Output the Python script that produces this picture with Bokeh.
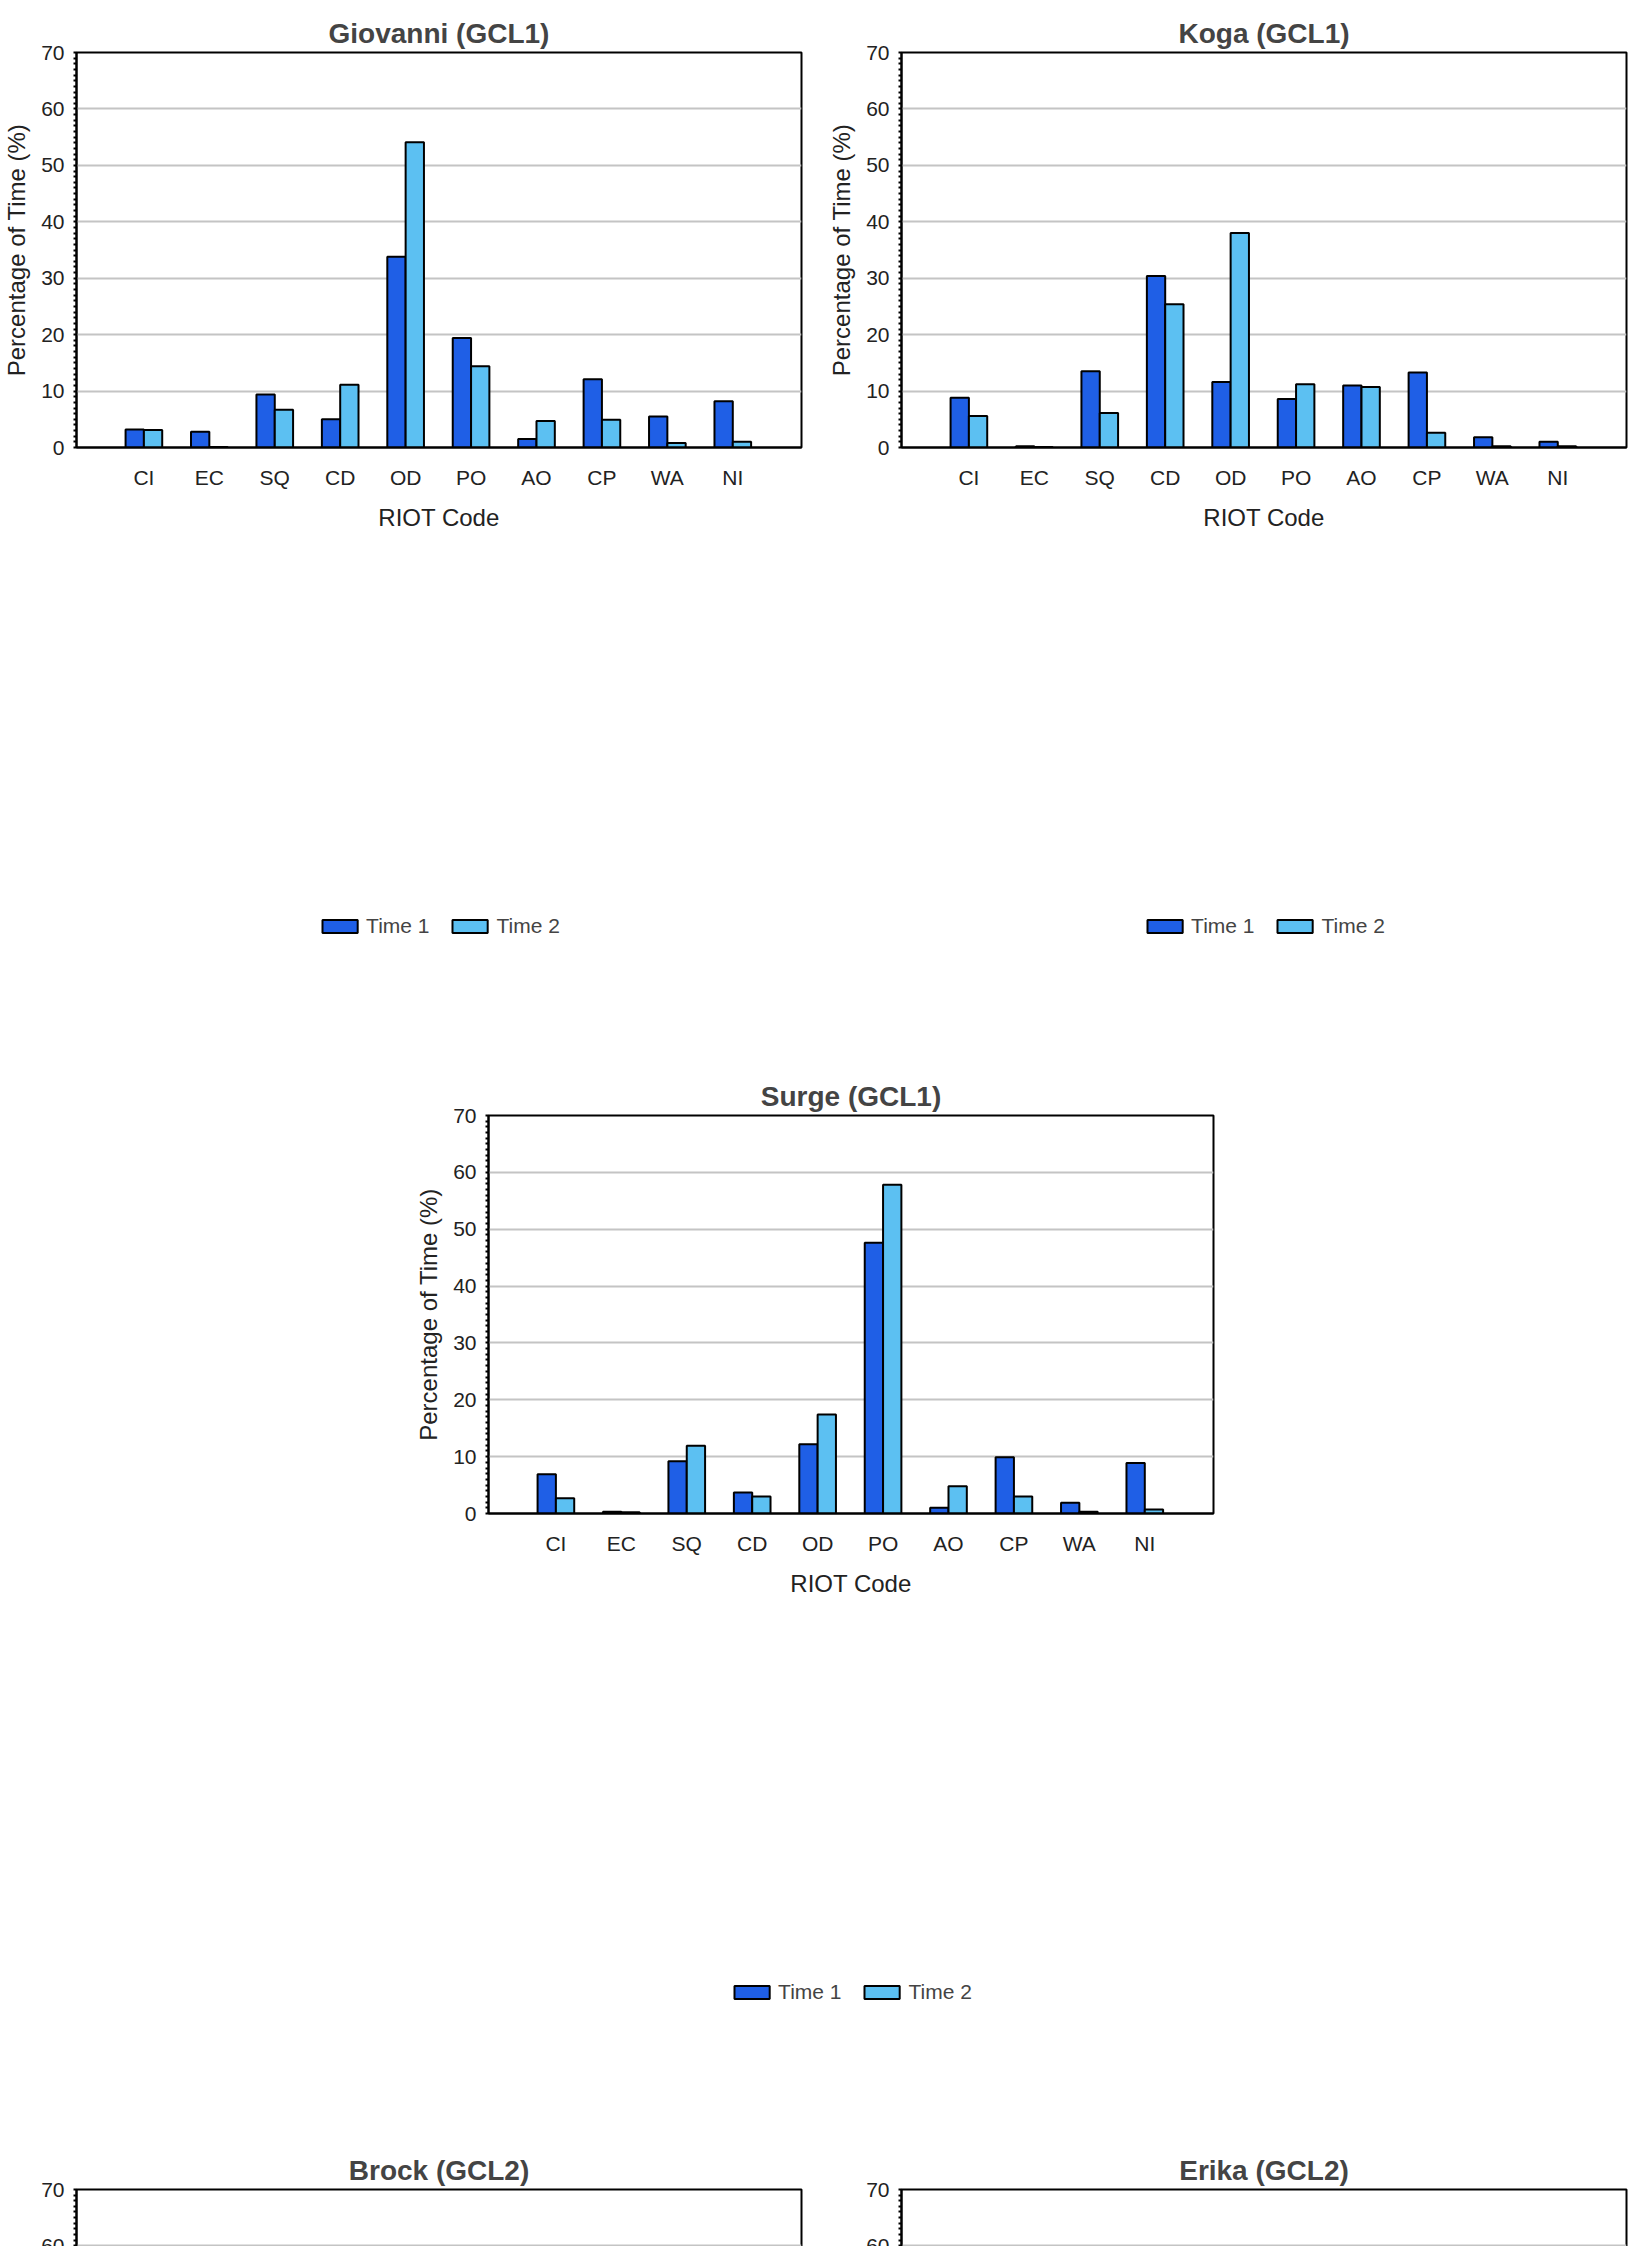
from bokeh.plotting import figure
from bokeh.models import (ColumnDataSource, FixedTicker, Legend, LegendItem, Label, Spacer, Title)
from bokeh.layouts import column, row
from bokeh.embed import file_html
from bokeh.resources import INLINE

codes = ["CI", "EC", "SQ", "CD", "OD", "PO", "AO", "CP", "WA", "NI"]

giovanni_t1 = [3.2, 2.8, 9.4, 5.0, 33.8, 19.4, 1.5, 12.1, 5.5, 8.2]
giovanni_t2 = [3.1, 0.1, 6.7, 11.1, 54.1, 14.4, 4.7, 4.9, 0.8, 1.0]
koga_t1 = [8.8, 0.2, 13.5, 30.4, 11.6, 8.6, 11.0, 13.3, 1.8, 1.0]
koga_t2 = [5.6, 0.1, 6.1, 25.4, 38.0, 11.2, 10.7, 2.6, 0.2, 0.2]
surge_t1 = [6.9, 0.3, 9.2, 3.7, 12.2, 47.6, 1.0, 9.9, 1.9, 8.9]
surge_t2 = [2.7, 0.2, 11.9, 3.0, 17.4, 57.8, 4.8, 3.0, 0.3, 0.7]
brock_t1 = [2.6, 3.2, 17.2, 5.2, 25.9, 35.3, 4.8, 4.7, 0.7, 1.1]
brock_t2 = [1.1, 0.1, 11.4, 7.6, 29.6, 35.1, 3.5, 5.3, 1.1, 6.4]
erika_t1 = [2.8, 0.3, 14.7, 10.1, 26.3, 23.7, 7.0, 14.6, 0.1, 0.1]
erika_t2 = [2.4, 1.4, 17.2, 9.8, 24.8, 27.1, 6.9, 5.7, 4.4, 0.1]
misty_t1 = [2.6, 0.4, 21.6, 3.3, 21.9, 34.6, 0.2, 14.8, 0.1, 1.4]
misty_t2 = [1.1, 0.2, 13.1, 6.5, 5.8, 54.6, 0.6, 14.5, 0.1, 5.0]
sabrina_t1 = [4.1, 0.1, 22.4, 9.7, 7.1, 39.2, 0.1, 5.6, 0.1, 11.8]
sabrina_t2 = [4.1, 0.1, 7.1, 7.3, 7.9, 50.2, 0.5, 3.5, 0.3, 19.0]

C1 = "#1f5fe6"
C2 = "#5cc0f2"
FONT = "Liberation Sans"
FW = 725

def panel(letter, title, t1, t2, top, fh, left=75, right=17):
    xs = list(range(1, 11))
    p = figure(output_backend="svg", toolbar_location=None,
               frame_width=FW, frame_height=fh,
               min_border_left=left, min_border_right=right,
               min_border_top=top, min_border_bottom=0,
               x_range=(-0.03, 11.05), y_range=(0, 70))
    t = Title(text=title, align="center", text_font=FONT, text_font_size="28px",
              text_font_style="bold", offset=0, standoff=8)
    p.add_layout(t, "above")
    src = ColumnDataSource(dict(x1=[x - 0.14 for x in xs], x2=[x + 0.14 for x in xs], t1=t1, t2=t2))
    r1 = p.vbar(x="x1", top="t1", width=0.28, source=src, fill_color=C1, line_color="black", line_width=2)
    r2 = p.vbar(x="x2", top="t2", width=0.28, source=src, fill_color=C2, line_color="black", line_width=2)
    p.outline_line_color = "black"
    p.outline_line_width = 2
    p.xgrid.visible = False
    p.ygrid.ticker = FixedTicker(ticks=[10, 20, 30, 40, 50, 60])
    p.ygrid.grid_line_color = "#c4c4c4"
    p.ygrid.grid_line_width = 2
    p.xaxis.ticker = FixedTicker(ticks=xs)
    p.xaxis.major_label_overrides = {i + 1: c for i, c in enumerate(codes)}
    p.xaxis.major_tick_line_color = None
    p.xaxis.minor_tick_line_color = None
    p.xaxis.axis_line_color = "black"
    p.xaxis.axis_line_width = 2
    p.xaxis.axis_label = "RIOT Code"
    p.yaxis.axis_label = "Percentage of Time (%)"
    p.yaxis.ticker = FixedTicker(ticks=list(range(0, 71, 10)), minor_ticks=list(range(0, 71)))
    p.yaxis.major_tick_line_color = None
    p.yaxis.minor_tick_out = 3
    p.yaxis.minor_tick_in = 0
    p.yaxis.minor_tick_line_width = 2
    p.yaxis.axis_line_width = 2
    for ax in (p.xaxis, p.yaxis):
        ax.major_label_text_font = FONT
        ax.major_label_text_font_size = "21px"
        ax.major_label_text_color = "#222222"
        ax.axis_label_text_font = FONT
        ax.axis_label_text_font_size = "24px"
        ax.axis_label_text_font_style = "normal"
        ax.axis_label_text_color = "#222222"
    p.xaxis.major_label_standoff = 12
    p.xaxis.axis_label_standoff = 12
    p.yaxis.axis_label_standoff = 8
    p.yaxis.major_label_standoff = 6
    leg = Legend(items=[LegendItem(label="Time 1", renderers=[r1]), LegendItem(label="Time 2", renderers=[r2])],
                 orientation="horizontal", location="center", label_text_font=FONT,
                 label_text_font_size="21px", glyph_width=44, glyph_height=16,
                 spacing=18, padding=0, margin=16, border_line_color=None, background_fill_alpha=0)
    p.add_layout(leg, "below")
    p.add_layout(Label(x=-0.03, y=70, x_offset=-75, y_offset=8, text=letter,
                       text_baseline="bottom", text_font=FONT, text_font_size="44px"))
    return p

pa = panel("a", "Giovanni (GCL1)", giovanni_t1, giovanni_t2, 52, 395)
pb = panel("b", "Koga (GCL1)", koga_t1, koga_t2, 52, 395, right=2)
pc = panel("c", "Surge (GCL1)", surge_t1, surge_t2, 46, 398)
pd = panel("d", "Brock (GCL2)", brock_t1, brock_t2, 54, 393)
pe = panel("e", "Erika (GCL2)", erika_t1, erika_t2, 54, 393, right=2)
pf = panel("f", "Misty (GCL2)", misty_t1, misty_t2, 44, 394)
pg = panel("g", "Sabrina (GCL2)", sabrina_t1, sabrina_t2, 44, 394, right=2)

layout = column(
    row(pa, Spacer(width=7), pb, spacing=0),
    Spacer(height=4),
    row(Spacer(width=412), pc, spacing=0),
    Spacer(height=4),
    row(pd, Spacer(width=7), pe, spacing=0),
    row(pf, Spacer(width=7), pg, spacing=0),
    spacing=0)

open("out.html", "w").write(file_html(layout, INLINE))
